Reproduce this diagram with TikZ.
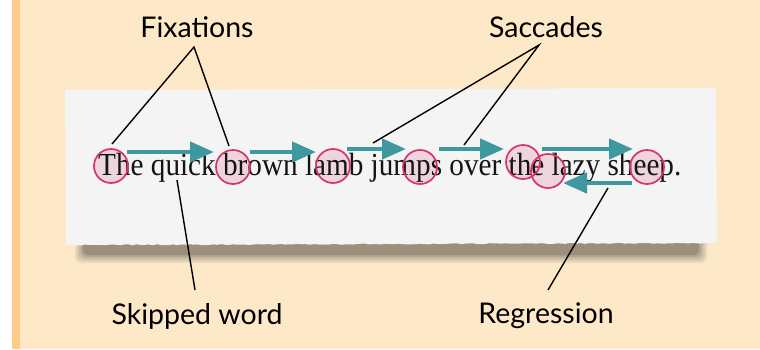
\documentclass[tikz,border=0pt]{standalone}
\usepackage{fontspec}
\setmainfont{Liberation Serif}
\newfontfamily\labfont{Lato}
\usetikzlibrary{arrows.meta,decorations.pathmorphing}
\definecolor{bg}{HTML}{FDE8C8}
\definecolor{strip}{HTML}{FDCD88}
\definecolor{paper}{HTML}{F4F4F4}
\definecolor{sacc}{HTML}{3F98A0}
\definecolor{fixs}{HTML}{D8336A}
\definecolor{fixf}{HTML}{EDCFDB}
\definecolor{shad}{HTML}{5E574C}
\begin{document}
\begin{tikzpicture}[x=1pt,y=-1pt,
  fixfill/.style={circle,fill=fixf,minimum size=34pt,inner sep=0pt},
  fix/.style={circle,draw=fixs,line width=1.7pt,minimum size=34pt,inner sep=0pt},
  sac/.style={draw=sacc,line width=4.5pt,-{Triangle[length=24pt,width=20pt]}},
  ptr/.style={draw=black,line width=1.4pt},
  lab/.style={font=\labfont\fontsize{28.5}{33}\selectfont,inner sep=0pt,text=black}]
\useasboundingbox (0,0) rectangle (760,349);
\fill[bg] (0,0) rectangle (760,349);
\fill[white] (0,0) rectangle (12,349);
\fill[strip] (12,0) rectangle (20,349);
% shadow
\foreach \i/\o in {0/0.10,2/0.12,4/0.15,6/0.2,8/0.25}{
  \fill[shad,opacity=\o,rounded corners=6pt] (75+\i,205+\i) rectangle (707-\i,263-\i);
}
% paper
\pgfmathsetseed{7}
\fill[paper] (65,90) [rounded corners=3pt] -- (716,88) -- (717,243) [sharp corners]
  decorate[decoration={random steps,segment length=4pt,amplitude=0.5pt}]{-- (66,245)} -- cycle;
% fixation fills (behind text)
\foreach \n/\p in {a/{(111,166)},b/{(233,167)},c/{(333,166)},d/{(420,167)},e/{(523,162)},f/{(548,171)},g/{(647,167)}}{
  \node[fixfill,fill opacity=0.85] (ff\n) at \p {};
}
% text
\node[anchor=base west,inner sep=0pt,text=black!92] (txt) at (98,175)
  {\scalebox{1}[1.1]{\resizebox{583pt}{!}{The quick brown lamb jumps over the lazy sheep.}}};
% fixations
\node[fix] (f1) at (111,166) {};
\node[fix] (f2) at (233,167) {};
\node[fix] (f3) at (333,166) {};
\node[fix] (f4) at (420,167) {};
\node[fix] (f5) at (523,162) {};
\node[fix] (f6) at (548,171) {};
\node[fix] (f7) at (647,167) {};
% saccades
\coordinate (s1a) at (127,152); \coordinate (s1b) at (214,152);
\coordinate (s2a) at (250,152); \coordinate (s2b) at (316,152);
\coordinate (s3a) at (347,149); \coordinate (s3b) at (406,149);
\coordinate (s4a) at (439,149); \coordinate (s4b) at (504,149);
\coordinate (s5a) at (542,149); \coordinate (s5b) at (633,149);
\coordinate (r1a) at (632,183); \coordinate (r1b) at (563,183);
\draw[sac] (s1a) -- (s1b);
\draw[sac] (s2a) -- (s2b);
\draw[sac] (s3a) -- (s3b);
\draw[sac] (s4a) -- (s4b);
\draw[sac] (s5a) -- (s5b);
\draw[sac] (r1a) -- (r1b);
% labels
\node[lab] (lfix) at (197,27) {Fixations};
\node[lab] (lsac) at (546,27) {Saccades};
\node[lab] (lskip) at (197,316) {Skipped word};
\node[lab] (lreg) at (546,316) {Regression};
\coordinate (afix) at (194,47);
\coordinate (asac) at (539,45);
\coordinate (pf1) at (112,144);
\coordinate (pf2) at (229,146);
\coordinate (ps1) at (373,143);
\coordinate (ps2) at (464,145);
\coordinate (pk1) at (177,180);
\coordinate (pk2) at (195,290);
\coordinate (pr1) at (608,188);
\coordinate (pr2) at (548,290);
\draw[ptr] (pf1) -- (afix) -- (pf2);
\draw[ptr] (ps1) -- (asac) -- (ps2);
\draw[ptr] (pk1) -- (pk2);
\draw[ptr] (pr1) -- (pr2);
\end{tikzpicture}
\end{document}
